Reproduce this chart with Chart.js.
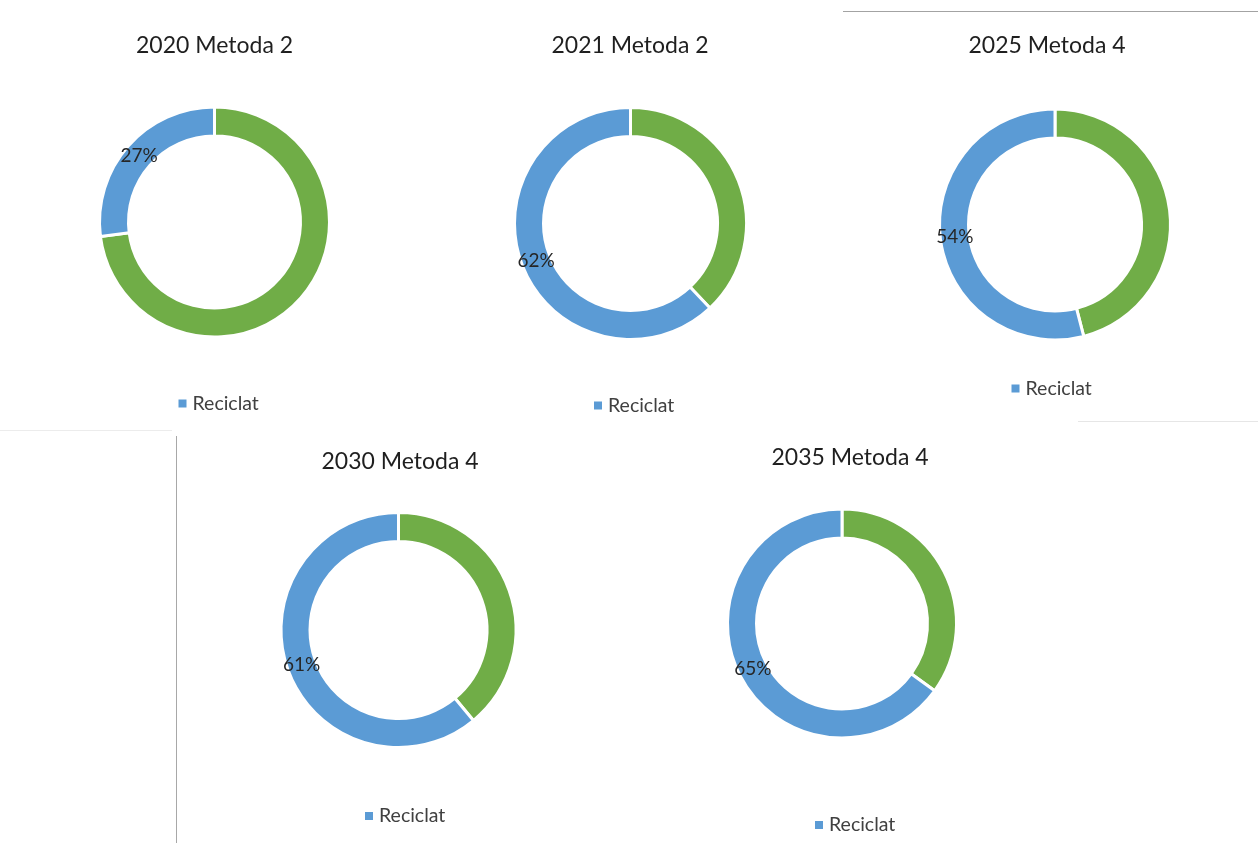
<!DOCTYPE html>
<html><head><meta charset="utf-8">
<script src="https://cdn.jsdelivr.net/npm/chart.js@4.4.0/dist/chart.umd.min.js"></script>
<style>
html,body{margin:0;padding:0;background:#fff;width:1258px;height:843px;overflow:hidden;position:relative}
.box{position:absolute}
.line{position:absolute}
</style></head><body>
<div class="line" style="left:843px;top:11px;width:415px;height:1px;background:#a3a3a3"></div>
<div class="line" style="left:1078px;top:421px;width:180px;height:1px;background:#e6e6e6"></div>
<div class="line" style="left:0px;top:430px;width:172px;height:1px;background:#ececec"></div>
<div class="line" style="left:176px;top:436px;width:1px;height:407px;background:#a8a8a8"></div>
<div id="wrap"></div>
<script>
// ---- data ----
const titles = ['2020 Metoda 2', '2021 Metoda 2', '2025 Metoda 4', '2030 Metoda 4', '2035 Metoda 4'];
const categories = ['Nereciclat', 'Reciclat'];
const reciclat = [27, 62, 54, 61, 65];
const nereciclat = [73, 38, 46, 39, 35];
const legendShown = ['Reciclat'];

// ---- layout (page coordinates) ----
const panels = [
  {cx:214.5, cy:222,   r:115,   tx:214.5, ty:45.5, bx:178.5, ly:403.5},
  {cx:630.5, cy:223.5, r:116,   tx:630,   ty:45.5, bx:594,   ly:405.5},
  {cx:1055,  cy:224.5, r:115.5, tx:1047,  ty:45.5, bx:1011.5,ly:388.5},
  {cx:398.5, cy:630,   r:117.5, tx:400,   ty:462,  bx:365,   ly:816},
  {cx:842,   cy:623.5, r:114.5, tx:850,   ty:458,  bx:815,   ly:825}
];
const colors = ['#70AD47', '#5B9BD5'];
const FONT = 'Lato, "Open Sans", sans-serif';

const panelText = {
  id: 'panelText',
  afterDraw(chart, args, o) {
    const ctx = chart.ctx;
    ctx.save();
    // title
    ctx.fillStyle = '#1f1f1f';
    ctx.font = '23px ' + FONT;
    ctx.textAlign = 'center';
    ctx.textBaseline = 'middle';
    ctx.fillText(o.title, o.tx, o.ty);
    // legend (only listed categories)
    const ds = chart.data.datasets[0];
    let x = o.bx;
    chart.data.labels.forEach((lab, i) => {
      if (!legendShown.includes(lab)) return;
      ctx.fillStyle = ds.backgroundColor[i];
      ctx.fillRect(x, o.ly - 4, 8, 8);
      ctx.fillStyle = '#404040';
      ctx.font = '19.5px ' + FONT;
      ctx.textAlign = 'left';
      ctx.fillText(lab, x + 14, o.ly);
      x += 14 + ctx.measureText(lab).width + 20;
    });
    ctx.restore();
  }
};

const pctLabels = {
  id: 'pctLabels',
  afterDatasetsDraw(chart) {
    const ctx = chart.ctx;
    const meta = chart.getDatasetMeta(0);
    const ds = chart.data.datasets[0];
    ctx.save();
    ctx.fillStyle = '#262626';
    ctx.font = '19px ' + FONT;
    ctx.textAlign = 'center';
    ctx.textBaseline = 'middle';
    meta.data.forEach((arc, i) => {
      if (chart.data.labels[i] !== 'Reciclat') return;
      const p = arc.getCenterPoint();
      ctx.fillText(ds.data[i] + '%', p.x, p.y);
    });
    ctx.restore();
  }
};

const wrap = document.getElementById('wrap');
panels.forEach((p, k) => {
  const W = 400;
  const left = Math.round(p.cx - W / 2);
  const top = Math.round(p.ty - 30);
  const H = Math.round(p.ly + 25 - top);
  const div = document.createElement('div');
  div.className = 'box';
  div.style.left = left + 'px';
  div.style.top = top + 'px';
  div.style.width = W + 'px';
  div.style.height = H + 'px';
  const cv = document.createElement('canvas');
  div.appendChild(cv);
  wrap.appendChild(div);
  const half = p.r + 6;
  const cyLocal = p.cy - top;
  const cxLocal = p.cx - left;
  new Chart(cv, {
    type: 'doughnut',
    data: {
      labels: categories,
      datasets: [{
        data: [nereciclat[k], reciclat[k]],
        backgroundColor: colors,
        borderColor: '#ffffff',
        borderWidth: 3,
        hoverOffset: 0
      }]
    },
    options: {
      responsive: true,
      maintainAspectRatio: false,
      animation: false,
      radius: p.r,
      cutout: ((p.r - 29) / p.r * 100).toFixed(2) + '%',
      layout: {
        padding: {
          top: cyLocal - half,
          bottom: H - (cyLocal + half),
          left: cxLocal - half,
          right: W - (cxLocal + half)
        }
      },
      plugins: {
        legend: { display: false },
        title: { display: false },
        tooltip: { enabled: false },
        panelText: {
          title: titles[k],
          tx: p.tx - left, ty: p.ty - top,
          bx: p.bx - left, ly: p.ly - top
        }
      }
    },
    plugins: [pctLabels, panelText]
  });
});
</script>
</body></html>
